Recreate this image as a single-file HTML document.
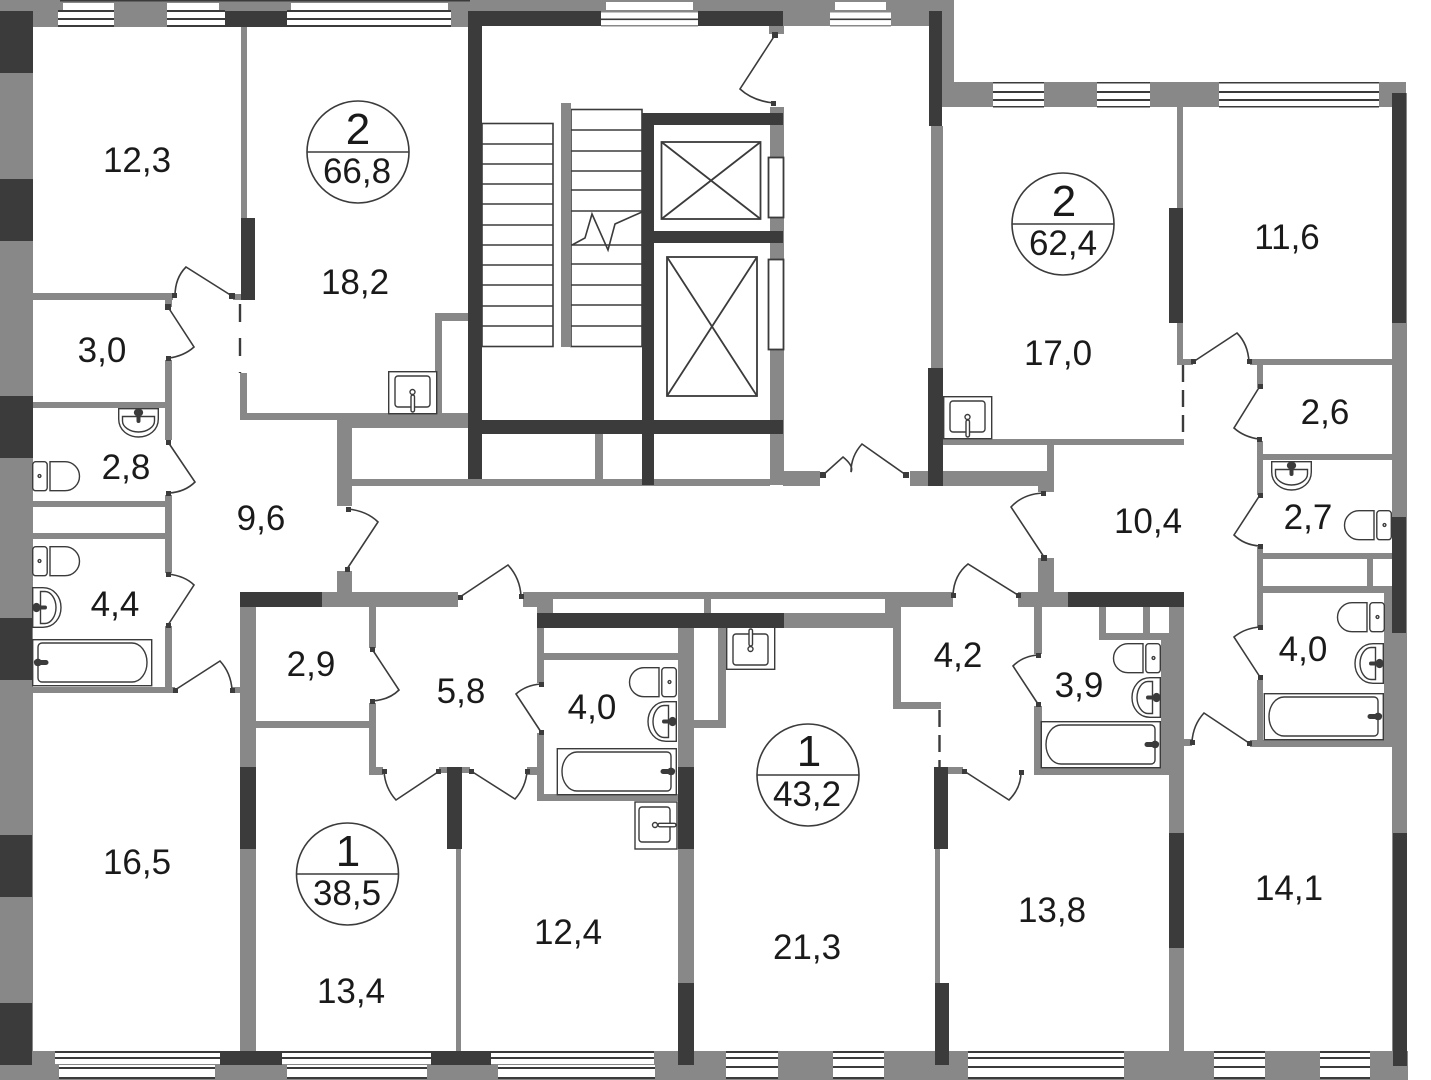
<!DOCTYPE html>
<html><head><meta charset="utf-8"><style>
html,body{margin:0;padding:0;background:#fff}
svg{display:block}
text{font-family:"Liberation Sans",sans-serif;fill:#1a1a1a;text-anchor:middle}
.g{fill:#888}.d{fill:#3b3b3b}.w{fill:#fff}
.l{stroke:#3b3b3b;stroke-width:1.6;fill:none}
.f{stroke:#3b3b3b;stroke-width:1.4;fill:#fff}
.n{stroke:#3b3b3b;stroke-width:1.4;fill:none}
.t{font-size:35px}.s{font-size:35px}.b{font-size:44px}
</style></head><body>
<svg width="1431" height="1080" viewBox="0 0 1431 1080" xmlns="http://www.w3.org/2000/svg">
<defs>
<g id="toilet"><rect class="n" x="0.7" y="0.7" width="14.500" height="29" rx="3"/><path class="n" d="M18,0.7H33A14.500,14.500 0 0 1 33,29.700H18Z"/><circle class="n" cx="7.500" cy="15" r="1.400"/></g>
<g id="basin"><path class="n" d="M0.7,0.7H11C22,0.7 29,10 29,20.500C29,31 22,40.300 11,40.300H0.7Z"/><path class="n" d="M8.500,4.500H13C19,4.500 24,12 24,20.500C24,29 19,36.500 13,36.500H8.500Z"/><path class="d" d="M1,20.500a3.500,3.500 0 0 1 7,-2h5a2,2 0 0 1 0,4h-5a3.500,3.500 0 0 1 -7,-2z"/></g>
<g id="bath"><rect class="n" x="0.7" y="0.7" width="119" height="46"/><path class="n" d="M10,4H100A15,19.500 0 0 1 115,23.500A15,19.500 0 0 1 100,43H10A4,4 0 0 1 6,39V8A4,4 0 0 1 10,4Z"/><path class="d" d="M2,24a4,3.500 0 0 1 7,-3h5a2.500,2.500 0 0 1 0,5h-5a4,3.500 0 0 1 -7,-2z"/></g>
<g id="sink"><rect class="f" x="0.7" y="0.7" width="48" height="42"/><rect class="n" x="7" y="5" width="35" height="31" rx="3"/><circle class="f" cx="24.500" cy="21" r="2.500"/><rect class="f" x="23" y="24" width="3.500" height="17" rx="1.700"/></g>
</defs>

<!-- TOP BAND LEFT -->
<rect class="g" x="0" y="0" width="470" height="11"/>
<rect class="g" x="33" y="11" width="435" height="16"/>
<rect class="d" x="225" y="11" width="62" height="16"/>
<g class="w"><rect x="63" y="3" width="51" height="7"/><rect x="167" y="3" width="52" height="7"/><rect x="291" y="3" width="157" height="7"/><rect x="58" y="12" width="56" height="14"/><rect x="167" y="12" width="58" height="14"/><rect x="287" y="12" width="164" height="14"/></g>
<g class="d"><rect x="58" y="10" width="56" height="2"/><rect x="58" y="18" width="56" height="2"/><rect x="58" y="25" width="56" height="2"/><rect x="167" y="10" width="58" height="2"/><rect x="167" y="18" width="58" height="2"/><rect x="167" y="25" width="58" height="2"/><rect x="287" y="10" width="164" height="2"/><rect x="287" y="18" width="164" height="2"/><rect x="287" y="25" width="164" height="2"/><rect x="60" y="0" width="410" height="1.500"/></g>

<!-- TOP BAND CENTER -->
<rect class="g" x="470" y="0" width="484" height="11"/>
<rect class="g" x="930" y="0" width="24" height="107"/>
<rect class="d" x="470" y="11" width="313" height="15"/>
<rect class="g" x="783" y="11" width="146" height="15"/>
<g class="w"><rect x="606" y="2" width="87" height="8"/><rect x="835" y="2" width="51" height="8"/><rect x="601" y="11" width="97" height="15"/><rect x="830" y="11" width="61" height="15"/></g>
<g class="g"><rect x="601" y="11" width="97" height="1.500"/><rect x="830" y="11" width="61" height="1.500"/><rect x="601" y="25" width="97" height="1.500"/><rect x="830" y="25" width="61" height="1.500"/></g>
<g class="d"><rect x="601" y="18.500" width="97" height="1.600"/><rect x="830" y="18.500" width="61" height="1.600"/></g>
<rect class="d" x="468" y="11" width="14" height="471"/>

<!-- TOP BAND RIGHT -->
<rect class="g" x="942" y="82" width="464" height="25"/>
<g class="w"><rect x="993" y="83" width="51" height="23"/><rect x="1097" y="83" width="53" height="23"/><rect x="1219" y="83" width="160" height="23"/></g>
<g class="d"><rect x="993" y="82" width="51" height="1.500"/><rect x="993" y="91" width="51" height="2"/><rect x="993" y="99" width="51" height="2"/><rect x="993" y="106" width="51" height="1.500"/><rect x="1097" y="82" width="53" height="1.500"/><rect x="1097" y="91" width="53" height="2"/><rect x="1097" y="99" width="53" height="2"/><rect x="1097" y="106" width="53" height="1.500"/><rect x="1219" y="82" width="160" height="1.500"/><rect x="1219" y="91" width="160" height="2"/><rect x="1219" y="99" width="160" height="2"/><rect x="1219" y="106" width="160" height="1.500"/></g>

<!-- BOTTOM BAND -->
<rect class="g" x="32" y="1051" width="1376" height="14"/>
<rect class="g" x="0" y="1064" width="1408" height="16"/>
<g class="w"><rect x="55" y="1052" width="165" height="12"/><rect x="59" y="1065" width="156" height="14"/><rect x="282" y="1052" width="149" height="12"/><rect x="287" y="1065" width="140" height="14"/><rect x="491" y="1052" width="163" height="12"/><rect x="498" y="1065" width="157" height="14"/><rect x="726" y="1052" width="52" height="27"/><rect x="833" y="1052" width="51" height="27"/><rect x="968" y="1052" width="156" height="27"/><rect x="1214" y="1052" width="51" height="27"/><rect x="1320" y="1052" width="50" height="27"/></g>
<g class="d">
<rect x="55" y="1051" width="165" height="2"/><rect x="55" y="1057" width="165" height="2"/><rect x="59" y="1067" width="156" height="2"/><rect x="59" y="1077" width="156" height="2"/>
<rect x="282" y="1051" width="149" height="2"/><rect x="282" y="1057" width="149" height="2"/><rect x="287" y="1067" width="140" height="2"/><rect x="287" y="1077" width="140" height="2"/>
<rect x="491" y="1051" width="163" height="2"/><rect x="491" y="1057" width="163" height="2"/><rect x="498" y="1067" width="157" height="2"/><rect x="498" y="1077" width="157" height="2"/>
<rect x="726" y="1051" width="52" height="2"/><rect x="726" y="1057" width="52" height="2"/><rect x="726" y="1066" width="52" height="2"/><rect x="726" y="1077" width="52" height="2"/>
<rect x="833" y="1051" width="51" height="2"/><rect x="833" y="1057" width="51" height="2"/><rect x="833" y="1066" width="51" height="2"/><rect x="833" y="1077" width="51" height="2"/>
<rect x="968" y="1051" width="156" height="2"/><rect x="968" y="1057" width="156" height="2"/><rect x="968" y="1066" width="156" height="2"/><rect x="968" y="1077" width="156" height="2"/>
<rect x="1214" y="1051" width="51" height="2"/><rect x="1214" y="1057" width="51" height="2"/><rect x="1214" y="1066" width="51" height="2"/><rect x="1214" y="1077" width="51" height="2"/>
<rect x="1320" y="1051" width="50" height="2"/><rect x="1320" y="1057" width="50" height="2"/><rect x="1320" y="1066" width="50" height="2"/><rect x="1320" y="1077" width="50" height="2"/>
<rect x="220" y="1051" width="62" height="14"/><rect x="431" y="1051" width="60" height="14"/>
</g>

<!-- LEFT OUTER WALL -->
<rect class="g" x="0" y="11" width="33" height="1054"/>
<g class="d"><rect x="0" y="11" width="33" height="62"/><rect x="0" y="179" width="33" height="62"/><rect x="0" y="396" width="33" height="62"/><rect x="0" y="618" width="32" height="62"/><rect x="0" y="835" width="32" height="62"/><rect x="0" y="1003" width="32" height="62"/></g>

<!-- RIGHT OUTER WALL -->
<rect class="g" x="1392" y="93" width="15" height="960"/>
<g class="d"><rect x="1392" y="93" width="14" height="230"/><rect x="1392" y="517" width="14" height="116"/><rect x="1393" y="833" width="14" height="233"/></g>

<!-- NW APARTMENT -->
<g class="g">
<rect x="241" y="27" width="6" height="191"/>
<rect x="33" y="293" width="140" height="7"/>
<rect x="165" y="293" width="7" height="14"/>
<rect x="233" y="294" width="8" height="6"/>
<rect x="165" y="360" width="7" height="80"/>
<rect x="33" y="402" width="132" height="6"/>
<rect x="165" y="495" width="7" height="78"/>
<rect x="32" y="501" width="133" height="6"/>
<rect x="32" y="533" width="133" height="6"/>
<rect x="165" y="626" width="7" height="66"/>
<rect x="32" y="687" width="143" height="6"/>
<rect x="232" y="687" width="8" height="6"/>
<rect x="240" y="373" width="7" height="47"/>
<rect x="240" y="413" width="100" height="7"/>
<rect x="435" y="313" width="33" height="8"/>
<rect x="435" y="313" width="7" height="100"/>
<rect x="352" y="413" width="116" height="15"/>
<rect x="337" y="413" width="15" height="93"/>
<rect x="352" y="479" width="118" height="7"/>
</g>
<rect class="d" x="241" y="218" width="14" height="82"/>
<path d="M240,304V373" stroke="#3b3b3b" stroke-width="2.400" stroke-dasharray="18 16" fill="none"/>

<!-- STAIRS / CORE -->
<g class="l">
<rect x="482" y="123.500" width="71" height="223"/>
<path d="M482,144H553M482,164H553M482,184H553M482,204H553M482,225H553M482,245H553M482,265H553M482,285H553M482,306H553M482,326H553"/>
<rect x="571" y="109.500" width="71" height="237"/>
<path d="M571,130H642M571,151H642M571,171H642M571,190H642M571,211H642M571,245H642M571,264H642M571,285H642M571,305H642M571,326H642"/>
<path d="M572,245L585,238L592,214L608,250L615,224L642,212"/>
</g>
<rect class="g" x="561" y="103" width="10" height="244"/>
<g class="g">
<rect x="769" y="26" width="15" height="8"/>
<rect x="770" y="107" width="14" height="378"/>
<rect x="595" y="434" width="8" height="51"/>
<rect x="470" y="479" width="300" height="7"/>
<rect x="783" y="471" width="37" height="15"/>
<rect x="910" y="471" width="19" height="15"/>
<rect x="931" y="126" width="12" height="242"/>
</g>
<g class="d">
<rect x="642" y="113" width="12" height="372"/>
<rect x="642" y="113" width="141" height="12"/>
<rect x="654" y="231" width="129" height="12"/>
<rect x="482" y="420" width="301" height="14"/>
<rect x="929" y="11" width="13" height="115"/>
<rect x="928" y="368" width="15" height="118"/>
</g>
<rect class="f" x="768.500" y="157.500" width="15" height="60" style="stroke-width:1.800"/>
<rect class="f" x="768.500" y="259.500" width="15" height="90" style="stroke-width:1.800"/>
<g class="l" style="stroke-width:1.800">
<rect x="661.500" y="142" width="99" height="77"/><path d="M661.500,142L760.500,219M760.500,142L661.500,219"/>
<rect x="667" y="257" width="90" height="139"/><path d="M667,257L757,396M757,257L667,396"/>
</g>

<!-- NE APARTMENT -->
<g class="g">
<rect x="943" y="471" width="111" height="15"/>
<rect x="1038" y="471" width="16" height="21"/>
<rect x="1047" y="445" width="7" height="26"/>
<rect x="943" y="439" width="241" height="6"/>
<rect x="1177" y="107" width="6" height="258"/>
<rect x="1177" y="359" width="16" height="6"/>
<rect x="1250" y="359" width="142" height="6"/>
<rect x="1257" y="359" width="6" height="29"/>
<rect x="1257" y="441" width="6" height="54"/>
<rect x="1263" y="454" width="129" height="6"/>
<rect x="1257" y="547" width="6" height="80"/>
<rect x="1263" y="553" width="129" height="6"/>
<rect x="1263" y="586" width="122" height="7"/>
<rect x="1367" y="559" width="6" height="27"/>
<rect x="1257" y="680" width="6" height="62"/>
<rect x="1384" y="586" width="8" height="160"/>
<rect x="1250" y="740" width="142" height="7"/>
<rect x="1184" y="739" width="8" height="7"/>
</g>
<rect class="d" x="1169" y="208" width="14" height="115"/>
<path d="M1183,365V439" stroke="#3b3b3b" stroke-width="2.400" stroke-dasharray="17 8" fill="none"/>

<!-- CORRIDOR SOUTH WALL W -->
<g class="g">
<rect x="322" y="592" width="136" height="15"/>
<rect x="337" y="571" width="15" height="21"/>
<rect x="240" y="607" width="16" height="444"/>
<rect x="369" y="607" width="7" height="41"/>
<rect x="369" y="703" width="7" height="72"/>
<rect x="256" y="721" width="113" height="7"/>
<rect x="369" y="767" width="14" height="8"/>
<rect x="439" y="767" width="8" height="6"/>
<rect x="462" y="767" width="8" height="6"/>
<rect x="456" y="849" width="5" height="202"/>
<rect x="529" y="767" width="8" height="8"/>
</g>
<g class="d">
<rect x="240" y="592" width="82" height="15"/>
<rect x="240" y="767" width="16" height="82"/>
<rect x="447" y="767" width="15" height="82"/>
</g>

<!-- CENTER SOUTH -->
<g class="g">
<rect x="523" y="592" width="30" height="15"/>
<rect x="537" y="607" width="16" height="6"/>
<rect x="553" y="592" width="332" height="7"/>
<rect x="704" y="599" width="7" height="14"/>
<rect x="885" y="592" width="16" height="21"/>
<rect x="901" y="592" width="52" height="15"/>
<rect x="784" y="613" width="117" height="15"/>
<rect x="893" y="628" width="8" height="81"/>
<rect x="893" y="702" width="48" height="7"/>
<rect x="678" y="628" width="16" height="139"/>
<rect x="678" y="849" width="16" height="202"/>
<rect x="718" y="628" width="8" height="100"/>
<rect x="694" y="720" width="32" height="8"/>
<rect x="537" y="628" width="7" height="55"/>
<rect x="544" y="653" width="134" height="7"/>
<rect x="537" y="733" width="7" height="68"/>
<rect x="537" y="794" width="141" height="7"/>
<rect x="527" y="767" width="10" height="8"/>
</g>
<g class="d">
<rect x="537" y="613" width="247" height="15"/>
<rect x="678" y="767" width="16" height="82"/>
<rect x="678" y="983" width="16" height="82"/>
</g>
<path d="M939.500,710V767" stroke="#3b3b3b" stroke-width="2.400" stroke-dasharray="17 8" fill="none"/>

<!-- SOUTH EAST -->
<g class="g">
<rect x="1018" y="592" width="50" height="15"/>
<rect x="1038" y="558" width="16" height="34"/>
<rect x="1034" y="607" width="8" height="47"/>
<rect x="1034" y="706" width="8" height="69"/>
<rect x="1034" y="768" width="136" height="7"/>
<rect x="948" y="767" width="15" height="7"/>
<rect x="935" y="849" width="5" height="134"/>
<rect x="1169" y="607" width="15" height="444"/>
<rect x="1161" y="640" width="9" height="128"/>
<rect x="1099" y="607" width="7" height="33"/>
<rect x="1099" y="633" width="71" height="7"/>
<rect x="1143" y="607" width="7" height="27"/>
</g>
<g class="d">
<rect x="1068" y="592" width="116" height="15"/>
<rect x="934" y="767" width="14" height="82"/>
<rect x="935" y="983" width="14" height="82"/>
<rect x="1169" y="833" width="15" height="115"/>
</g>

<!-- DOORS -->
<g class="l">
<path d="M232,296L186,267Q175,278 175,296"/>
<path d="M168,307L194,347Q184,356 169,358"/>
<path d="M168,442L195,482Q185,492 169,493"/>
<path d="M168,574Q185,576 194,585L168,625"/>
<path d="M175,690L220,661Q231,673 232,690"/>
<path d="M775,35L740,89Q753,101 774,103"/>
<path d="M823,475L843,457Q854,466 851,472Q851,456 862,444L906,475"/>
<path d="M1193,362L1237,333Q1248,344 1249,362"/>
<path d="M1260,386L1234,428Q1244,437 1259,439"/>
<path d="M1260,495L1234,535Q1244,545 1260,546"/>
<path d="M1260,627Q1245,628 1234,637L1260,677"/>
<path d="M1249,743L1204,713Q1193,725 1192,742"/>
<path d="M1044,557L1011,507Q1023,494 1043,493"/>
<path d="M1038,655Q1023,656 1013,666L1038,704"/>
<path d="M1021,772Q1021,788 1009,800L964,771"/>
<path d="M953,595Q954,575 968,564L1018,595"/>
<path d="M521,596Q520,578 508,565L460,597"/>
<path d="M541,684Q526,685 516,694L541,732"/>
<path d="M527,771Q526,787 515,799L471,771"/>
<path d="M438,772L396,800Q385,788 384,771"/>
<path d="M347,569L378,522Q367,511 348,509"/>
<path d="M372,649L399,690Q389,700 372,701"/>
</g>
<g class="d">
<rect x="229" y="293" width="6" height="6"/><rect x="172" y="293" width="5" height="5"/><rect x="165" y="304" width="6" height="6"/><rect x="166" y="356" width="5" height="5"/><rect x="166" y="440" width="5" height="5"/><rect x="166" y="491" width="5" height="5"/><rect x="166" y="572" width="5" height="5"/><rect x="166" y="623" width="5" height="5"/><rect x="173" y="688" width="5" height="5"/><rect x="230" y="688" width="5" height="5"/>
<rect x="772" y="32" width="6" height="6"/><rect x="771" y="101" width="5" height="5"/><rect x="820" y="472" width="6" height="6"/><rect x="903" y="472" width="6" height="6"/>
<rect x="1191" y="359" width="5" height="5"/><rect x="1247" y="359" width="5" height="5"/><rect x="1258" y="384" width="5" height="5"/><rect x="1257" y="437" width="5" height="5"/><rect x="1258" y="493" width="5" height="5"/><rect x="1258" y="544" width="5" height="5"/><rect x="1258" y="625" width="5" height="5"/><rect x="1258" y="675" width="5" height="5"/><rect x="1247" y="741" width="5" height="5"/><rect x="1190" y="740" width="5" height="5"/>
<rect x="1041" y="555" width="6" height="6"/><rect x="1041" y="491" width="5" height="5"/><rect x="1036" y="653" width="5" height="5"/><rect x="1036" y="702" width="5" height="5"/><rect x="1019" y="770" width="5" height="5"/><rect x="962" y="769" width="5" height="5"/><rect x="951" y="593" width="5" height="5"/><rect x="1016" y="593" width="5" height="5"/><rect x="519" y="594" width="5" height="5"/><rect x="458" y="595" width="5" height="5"/><rect x="539" y="682" width="5" height="5"/><rect x="539" y="730" width="5" height="5"/><rect x="525" y="769" width="5" height="5"/><rect x="469" y="769" width="5" height="5"/><rect x="436" y="769" width="5" height="5"/><rect x="382" y="769" width="5" height="5"/><rect x="345" y="567" width="5" height="5"/><rect x="346" y="507" width="5" height="5"/><rect x="370" y="647" width="5" height="5"/><rect x="370" y="699" width="5" height="5"/>
</g>

<!-- SINKS -->
<use href="#sink" x="388" y="371"/>
<use href="#sink" x="943" y="396"/>
<use href="#sink" transform="translate(726,670) scale(1,-1)"/>
<g transform="translate(677,802) rotate(90)"><rect class="f" x="0" y="0" width="47" height="42"/><rect class="n" x="5" y="7" width="35" height="31" rx="3"/><circle class="f" cx="23" cy="22" r="2.500"/><rect class="f" x="21.300" y="1" width="3.500" height="18" rx="1.700"/></g>

<!-- BASINS / TOILETS / BATHS -->
<use href="#toilet" x="32" y="461"/>
<use href="#toilet" x="32" y="546"/>
<use href="#basin" x="32" y="587"/>
<use href="#bath" x="32" y="639"/>
<use href="#basin" transform="translate(159,408) rotate(90)"/>

<use href="#toilet" transform="translate(677,667) scale(-1,1)"/>
<use href="#basin" transform="translate(677,701) scale(-1,1)"/>
<use href="#bath" transform="translate(677,748) scale(-1,1)"/>

<use href="#toilet" transform="translate(1161,643) scale(-1,1)"/>
<use href="#basin" transform="translate(1161,677) scale(-1,1)"/>
<use href="#bath" transform="translate(1161,721) scale(-1,1)"/>

<use href="#basin" transform="translate(1312,461) rotate(90)"/>
<use href="#toilet" transform="translate(1392,510) scale(-1,1)"/>
<use href="#toilet" transform="translate(1385,602) scale(-1,1)"/>
<use href="#basin" transform="translate(1384,643) scale(-1,1)"/>
<use href="#bath" transform="translate(1384,693) scale(-1,1)"/>

<!-- CIRCLES -->
<g class="n" style="stroke-width:1.600;fill:#fff">
<circle cx="358" cy="152" r="51"/><circle cx="1063" cy="224" r="51"/><circle cx="808" cy="775" r="51"/><circle cx="347.500" cy="874" r="51"/>
</g>
<g class="l"><path d="M307,152H409M1012,224H1114M757,775H859M296.500,874H398.500"/></g>
<text class="b" x="358" y="144">2</text><text class="s" x="357" y="183">66,8</text>
<text class="b" x="1064" y="216">2</text><text class="s" x="1063" y="255">62,4</text>
<text class="b" x="809" y="766">1</text><text class="s" x="807" y="806">43,2</text>
<text class="b" x="348" y="866">1</text><text class="s" x="347" y="905">38,5</text>

<!-- AREAS -->
<g class="t">
<text x="137" y="172">12,3</text>
<text x="355" y="294">18,2</text>
<text x="102" y="362">3,0</text>
<text x="126" y="479">2,8</text>
<text x="261" y="530">9,6</text>
<text x="115" y="616">4,4</text>
<text x="311" y="676">2,9</text>
<text x="461" y="703">5,8</text>
<text x="592" y="719">4,0</text>
<text x="137" y="874">16,5</text>
<text x="351" y="1003">13,4</text>
<text x="568" y="944">12,4</text>
<text x="807" y="959">21,3</text>
<text x="1052" y="922">13,8</text>
<text x="1289" y="900">14,1</text>
<text x="1058" y="365">17,0</text>
<text x="1287" y="249">11,6</text>
<text x="1325" y="424">2,6</text>
<text x="1148" y="533">10,4</text>
<text x="1308" y="529">2,7</text>
<text x="958" y="667">4,2</text>
<text x="1079" y="697">3,9</text>
<text x="1303" y="661">4,0</text>
</g>
</svg>
</body></html>
